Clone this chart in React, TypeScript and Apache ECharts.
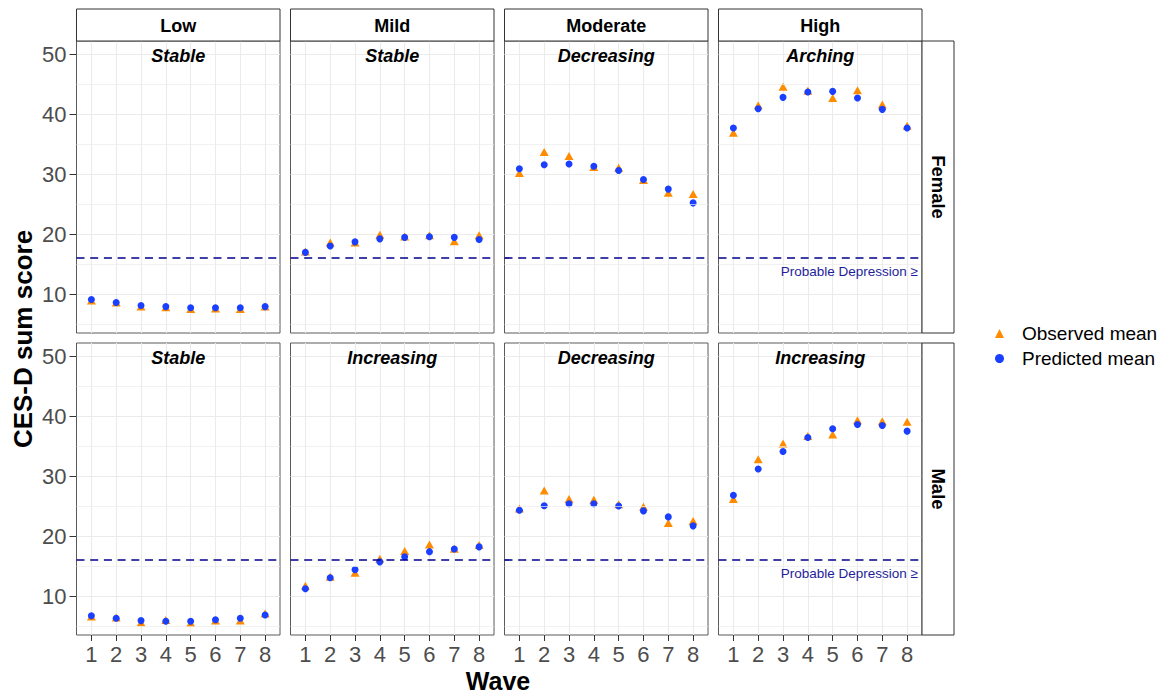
import React, { useEffect, useRef } from 'react';
import * as echarts from 'echarts';

// ---------- data ----------
const waves = [1, 2, 3, 4, 5, 6, 7, 8];
const classes = ['Low', 'Mild', 'Moderate', 'High'];
const sexes = ['Female', 'Male'];
const femaleTrajectories = ['Stable', 'Stable', 'Decreasing', 'Arching'];
const maleTrajectories = ['Stable', 'Increasing', 'Decreasing', 'Increasing'];

const femaleLowObs = [8.9, 8.6, 7.9, 7.8, 7.5, 7.6, 7.5, 7.9];
const femaleLowPred = [9.1, 8.6, 8.1, 7.9, 7.7, 7.7, 7.7, 7.9];
const femaleMildObs = [17.1, 18.6, 18.6, 19.9, 19.6, 19.8, 18.8, 19.8];
const femaleMildPred = [16.95, 18.0, 18.7, 19.2, 19.45, 19.55, 19.45, 19.1];
const femaleModObs = [30.2, 33.7, 33.0, 31.2, 31.05, 29.0, 26.9, 26.7];
const femaleModPred = [30.9, 31.55, 31.7, 31.3, 30.6, 29.1, 27.5, 25.2];
const femaleHighObs = [36.9, 41.5, 44.55, 43.9, 42.7, 44.0, 41.6, 38.05];
const femaleHighPred = [37.7, 40.9, 42.8, 43.7, 43.8, 42.7, 40.8, 37.7];

const maleLowObs = [6.6, 6.4, 5.6, 6.0, 5.5, 5.9, 5.9, 7.1];
const maleLowPred = [6.7, 6.3, 5.9, 5.8, 5.8, 6.05, 6.3, 6.85];
const maleMildObs = [11.7, 13.2, 13.9, 16.2, 17.5, 18.6, 17.9, 18.5];
const maleMildPred = [11.2, 13.05, 14.4, 15.7, 16.55, 17.4, 17.85, 18.2];
const maleModObs = [24.6, 27.6, 26.2, 26.05, 25.3, 24.9, 22.2, 22.5];
const maleModPred = [24.3, 25.05, 25.4, 25.4, 25.0, 24.2, 23.2, 21.7];
const maleHighObs = [26.2, 32.8, 35.45, 36.7, 36.95, 39.3, 39.15, 39.05];
const maleHighPred = [26.8, 31.2, 34.1, 36.45, 37.9, 38.6, 38.45, 37.5];

const yTicks = [10, 20, 30, 40, 50];
const yMinor = [5, 15, 25, 35, 45];
const cutoff = 16;
const cutoffLabel = 'Probable Depression ≥';

// ---------- layout ----------
const FONT = '"Liberation Sans", Arial, Helvetica, sans-serif';
const panelLefts = [76.5, 290.5, 504.5, 718.5];
const panelW = 203.5;
const rowTops = [41, 343];
const panelH = 292;
const stripTop = 9;
const stripH = 32;
const rightStripX = 922;
const rightStripW = 32;
const OBS_COLOR = '#FF8C00';
const PRED_COLOR = '#1A3FFF';
const GRID_COLOR = '#EBEBEB';

function buildOption() {
  const obsData = [
    [femaleLowObs, femaleMildObs, femaleModObs, femaleHighObs],
    [maleLowObs, maleMildObs, maleModObs, maleHighObs],
  ];
  const predData = [
    [femaleLowPred, femaleMildPred, femaleModPred, femaleHighPred],
    [maleLowPred, maleMildPred, maleModPred, maleHighPred],
  ];
  const trajectories = [femaleTrajectories, maleTrajectories];

  const grid: any[] = [];
  const xAxis: any[] = [];
  const yAxis: any[] = [];
  const series: any[] = [];
  const graphic: any[] = [];

  for (let r = 0; r < 2; r++) {
    for (let c = 0; c < 4; c++) {
      const idx = r * 4 + c;
      grid.push({
        left: panelLefts[c],
        top: rowTops[r],
        width: panelW,
        height: panelH,
        show: true,
        backgroundColor: '#fff',
        borderColor: '#5a5a5a',
        borderWidth: 1,
        containLabel: false,
      });
      const bottom = r === 1;
      const leftCol = c === 0;
      xAxis.push({
        type: 'value',
        gridIndex: idx,
        min: 0.4,
        max: 8.6,
        axisLine: { show: false },
        axisTick: {
          show: bottom,
          customValues: waves,
          length: 6,
          lineStyle: { color: '#333', width: 1 },
        },
        axisLabel: {
          show: bottom,
          customValues: waves,
          margin: 8,
          fontSize: 22,
          color: '#4D4D4D',
          fontFamily: FONT,
        },
        splitLine: { show: true, lineStyle: { color: GRID_COLOR, width: 1.1 } },
      });
      yAxis.push({
        type: 'value',
        gridIndex: idx,
        min: 3.5,
        max: 52.2,
        axisLine: { show: false },
        axisTick: {
          show: leftCol,
          customValues: yTicks,
          length: 7,
          lineStyle: { color: '#333', width: 1 },
        },
        axisLabel: {
          show: leftCol,
          customValues: yTicks,
          margin: 10,
          fontSize: 22,
          color: '#4D4D4D',
          fontFamily: FONT,
        },
        splitLine: { show: true, lineStyle: { color: GRID_COLOR, width: 1.1 } },
      });

      // minor grid lines
      series.push({
        type: 'line',
        name: 'minor-' + idx,
        xAxisIndex: idx,
        yAxisIndex: idx,
        data: [],
        z: 1,
        silent: true,
        markLine: {
          silent: true,
          symbol: ['none', 'none'],
          label: { show: false },
          emphasis: { disabled: true },
          lineStyle: { color: GRID_COLOR, width: 0.7, type: 'solid' },
          data: yMinor.map((v) => ({ yAxis: v })),
          animation: false,
        },
      });
      // cutoff line
      series.push({
        type: 'line',
        name: 'cutoff-' + idx,
        xAxisIndex: idx,
        yAxisIndex: idx,
        data: [],
        z: 2,
        silent: true,
        markLine: {
          silent: true,
          symbol: ['none', 'none'],
          label: { show: false },
          emphasis: { disabled: true },
          lineStyle: { color: '#00008B', width: 1.7, type: [8, 5.7] },
          data: [{ yAxis: cutoff }],
          animation: false,
        },
      });
      series.push({
        type: 'scatter',
        name: 'Observed mean',
        xAxisIndex: idx,
        yAxisIndex: idx,
        symbol: 'triangle',
        symbolSize: [9, 8],
        itemStyle: { color: OBS_COLOR, opacity: 1 },
        z: 3,
        data: waves.map((w, i) => [w, obsData[r][c][i]]),
      });
      series.push({
        type: 'scatter',
        name: 'Predicted mean',
        xAxisIndex: idx,
        yAxisIndex: idx,
        symbol: 'circle',
        symbolSize: 7,
        itemStyle: { color: PRED_COLOR, opacity: 1 },
        z: 4,
        data: waves.map((w, i) => [w, predData[r][c][i]]),
      });

      // trajectory subtitle
      graphic.push({
        type: 'text',
        x: panelLefts[c] + panelW / 2,
        y: rowTops[r] + 14.5,
        z: 50,
        style: {
          text: trajectories[r][c],
          fontFamily: FONT,
          fontSize: 18,
          fontWeight: 'bold',
          fontStyle: 'italic',
          fill: '#000',
          align: 'center',
          verticalAlign: 'middle',
        },
      });
    }
    // cutoff annotation in the rightmost panel
    graphic.push({
      type: 'text',
      x: panelLefts[3] + panelW - 4,
      y: rowTops[r] + 230,
      z: 50,
      style: {
        text: cutoffLabel,
        fontFamily: FONT,
        fontSize: 13.5,
        fill: '#1E1E9A',
        align: 'right',
        verticalAlign: 'middle',
      },
    });
    // right strip
    graphic.push({
      type: 'rect',
      z: 50,
      shape: { x: rightStripX, y: rowTops[r], width: rightStripW, height: panelH },
      style: { fill: '#fff', stroke: '#333', lineWidth: 1 },
    });
    graphic.push({
      type: 'text',
      x: rightStripX + rightStripW / 2,
      y: rowTops[r] + panelH / 2,
      rotation: -Math.PI / 2,
      z: 51,
      style: {
        text: sexes[r],
        fontFamily: FONT,
        fontSize: 18.5,
        fontWeight: 'bold',
        fill: '#000',
        align: 'center',
        verticalAlign: 'middle',
      },
    });
  }

  // top strips
  for (let c = 0; c < 4; c++) {
    graphic.push({
      type: 'rect',
      z: 50,
      shape: { x: panelLefts[c], y: stripTop, width: panelW, height: stripH },
      style: { fill: '#fff', stroke: '#333', lineWidth: 1 },
    });
    graphic.push({
      type: 'text',
      x: panelLefts[c] + panelW / 2,
      y: stripTop + stripH / 2 + 1,
      z: 51,
      style: {
        text: classes[c],
        fontFamily: FONT,
        fontSize: 18,
        fontWeight: 'bold',
        fill: '#000',
        align: 'center',
        verticalAlign: 'middle',
      },
    });
  }

  // axis titles
  graphic.push({
    type: 'text',
    x: 23,
    y: 339,
    rotation: Math.PI / 2,
    z: 50,
    style: {
      text: 'CES-D sum score',
      fontFamily: FONT,
      fontSize: 26,
      fontWeight: 'bold',
      fill: '#000',
      align: 'center',
      verticalAlign: 'middle',
    },
  });
  graphic.push({
    type: 'text',
    x: 498,
    y: 681,
    z: 50,
    style: {
      text: 'Wave',
      fontFamily: FONT,
      fontSize: 25,
      fontWeight: 'bold',
      fill: '#000',
      align: 'center',
      verticalAlign: 'middle',
    },
  });

  return {
    animation: false,
    backgroundColor: '#fff',
    textStyle: { fontFamily: FONT },
    grid,
    xAxis,
    yAxis,
    series,
    graphic,
    legend: {
      orient: 'vertical',
      left: 990,
      top: 319,
      itemWidth: 9,
      itemHeight: 9,
      itemGap: 6,
      selectedMode: false,
      textStyle: { fontSize: 19, color: '#000', fontFamily: FONT, padding: [0, 0, 0, 13] },
      data: [
        { name: 'Observed mean', icon: 'triangle', itemStyle: { color: OBS_COLOR } },
        { name: 'Predicted mean', icon: 'circle', itemStyle: { color: PRED_COLOR } },
      ],
    },
  };
}

export default function App() {
  const ref = useRef<HTMLDivElement>(null);
  useEffect(() => {
    if (!ref.current) return;
    const chart = echarts.init(ref.current, null, { renderer: 'svg' });
    chart.setOption(buildOption() as any);
    return () => chart.dispose();
  }, []);
  return (
    <div
      ref={ref}
      style={{ position: 'absolute', left: 0, top: 0, width: 1171, height: 696, background: '#fff' }}
    />
  );
}
